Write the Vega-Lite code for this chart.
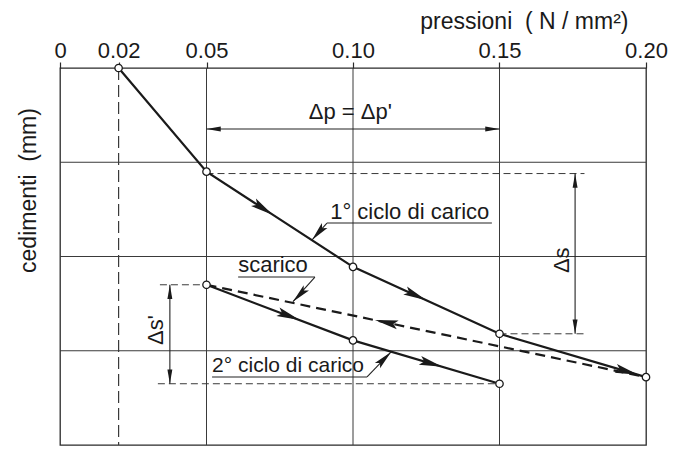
{
  "$schema": "https://vega.github.io/schema/vega-lite/v6.json",
  "width": 586,
  "height": 377,
  "autosize": {"type": "none"},
  "padding": {"left": 60, "top": 68, "right": 34, "bottom": 7},
  "background": "white",
  "config": {
    "view": {"stroke": "#2a2a2a", "strokeWidth": 1.3},
    "font": "Liberation Sans",
    "text": {"font": "Liberation Sans", "color": "#1a1a1a"}
  },
  "datasets": {
    "gridH": [{"s": 1, "p": 0, "p2": 0.2}, {"s": 2, "p": 0, "p2": 0.2}, {"s": 3, "p": 0, "p2": 0.2}],
    "gridV": [{"p": 0.05, "s": 0, "s2": 4}, {"p": 0.1, "s": 0, "s2": 4}, {"p": 0.15, "s": 0, "s2": 4}],
    "gridV02": [{"p": 0.02, "s": 0, "s2": 4}],
    "ext": [
      {"p": 0.05, "p2": 0.179, "s": 1.12},
      {"p": 0.15, "p2": 0.1795, "s": 2.82},
      {"p": 0.0341, "p2": 0.05, "s": 2.30},
      {"p": 0.0334, "p2": 0.15, "s": 3.35}
    ],
    "dims": [
      {"p": 0.05, "s": 0.647, "p2": 0.15, "s2": 0.647},
      {"p": 0.1758, "s": 1.12, "p2": 0.1758, "s2": 2.82},
      {"p": 0.0375, "s": 2.30, "p2": 0.0375, "s2": 3.35},
      {"p": 0.0911, "s": 1.645, "p2": 0.1474, "s2": 1.645},
      {"p": 0.0911, "s": 1.645, "p2": 0.0860, "s2": 1.825},
      {"p": 0.0608, "s": 2.218, "p2": 0.0870, "s2": 2.218},
      {"p": 0.0870, "s": 2.218, "p2": 0.0795, "s2": 2.48},
      {"p": 0.0519, "s": 3.278, "p2": 0.1048, "s2": 3.278},
      {"p": 0.1048, "s": 3.278, "p2": 0.1130, "s2": 3.013}
    ],
    "c1": [
      {"p": 0.02, "s": 0},
      {"p": 0.05, "s": 1.10},
      {"p": 0.10, "s": 2.11},
      {"p": 0.15, "s": 2.82},
      {"p": 0.20, "s": 3.28}
    ],
    "unload": [
      {"p": 0.20, "s": 3.28},
      {"p": 0.05, "s": 2.30}
    ],
    "c2": [
      {"p": 0.05, "s": 2.30},
      {"p": 0.10, "s": 2.89},
      {"p": 0.15, "s": 3.35}
    ],
    "pts": [
      {"p": 0.02, "s": 0},
      {"p": 0.05, "s": 1.10},
      {"p": 0.10, "s": 2.11},
      {"p": 0.15, "s": 2.82},
      {"p": 0.20, "s": 3.28},
      {"p": 0.05, "s": 2.30},
      {"p": 0.10, "s": 2.89},
      {"p": 0.15, "s": 3.35}
    ],
    "txtLeft": [
      {"p": 0.0922, "s": 1.602, "label": "1° ciclo di carico"},
      {"p": 0.0608, "s": 2.164, "label": "scarico"}
    ],
    "txtLeft2": [
      {"p": 0.0519, "s": 3.225, "label": "2° ciclo di carico"}
    ],
    "txtCenter": [
      {"p": 0.0991, "s": 0.541, "label": "Δp = Δp'"}
    ],
    "txtRot": [
      {"p": 0.1712, "s": 2.04, "label": "Δs"},
      {"p": 0.0326, "s": 2.78, "label": "Δs'"}
    ]
  },
  "encoding": {
    "x": {
      "field": "p", "type": "quantitative",
      "scale": {"domain": [0, 0.2], "nice": false, "zero": false},
      "axis": {
        "orient": "top",
        "values": [0, 0.02, 0.05, 0.1, 0.15, 0.2],
        "labelExpr": "datum.value == 0 ? '0' : format(datum.value, '.2f')",
        "grid": false,
        "domain": false,
        "ticks": true,
        "tickSize": 6,
        "tickColor": "#2a2a2a",
        "tickWidth": 1.2,
        "labelFont": "Liberation Sans",
        "labelFontSize": 22,
        "labelColor": "#1a1a1a",
        "labelPadding": 5,
        "labelBaseline": "alphabetic",
        "labelFlush": false,
        "labelOverlap": false,
        "title": "pressioni\u00a0\u00a0(\u00a0N\u00a0/\u00a0mm²)",
        "titleFont": "Liberation Sans",
        "titleFontSize": 23,
        "titleFontWeight": "normal",
        "titleColor": "#1a1a1a",
        "titleAlign": "right",
        "titleBaseline": "alphabetic",
        "titleX": 568,
        "titleY": -40
      }
    },
    "y": {
      "field": "s", "type": "quantitative",
      "scale": {"domain": [0, 4], "nice": false, "reverse": true},
      "axis": {
        "orient": "left",
        "labels": false,
        "ticks": false,
        "domain": false,
        "grid": false,
        "title": "cedimenti\u00a0\u00a0(mm)",
        "titleFont": "Liberation Sans",
        "titleFontSize": 23,
        "titleFontWeight": "normal",
        "titleColor": "#1a1a1a",
        "titleAngle": 270,
        "titleAlign": "center",
        "titleBaseline": "middle",
        "titleX": -32,
        "titleY": 122
      }
    }
  },
  "layer": [
    {
      "data": {"name": "gridH"},
      "mark": {"type": "rule", "color": "#3a3a3a", "strokeWidth": 1},
      "encoding": {"x2": {"field": "p2"}}
    },
    {
      "data": {"name": "gridV"},
      "mark": {"type": "rule", "color": "#3a3a3a", "strokeWidth": 1},
      "encoding": {"y2": {"field": "s2"}}
    },
    {
      "data": {"name": "gridV02"},
      "mark": {"type": "rule", "color": "#3a3a3a", "strokeWidth": 1.2, "strokeDash": [12, 5]},
      "encoding": {"y2": {"field": "s2"}}
    },
    {
      "data": {"name": "ext"},
      "mark": {"type": "rule", "color": "#3a3a3a", "strokeWidth": 1, "strokeDash": [7, 4]},
      "encoding": {"x2": {"field": "p2"}}
    },
    {
      "data": {"name": "dims"},
      "mark": {"type": "rule", "color": "#222", "strokeWidth": 1.1},
      "encoding": {"x2": {"field": "p2"}, "y2": {"field": "s2"}}
    },
    {
      "data": {"name": "c1"},
      "mark": {"type": "line", "color": "#1a1a1a", "strokeWidth": 2.2},
      "encoding": {}
    },
    {
      "data": {"name": "unload"},
      "mark": {"type": "line", "color": "#1a1a1a", "strokeWidth": 2.2, "strokeDash": [10, 6]},
      "encoding": {}
    },
    {
      "data": {"name": "c2"},
      "mark": {"type": "line", "color": "#1a1a1a", "strokeWidth": 2.2},
      "encoding": {}
    },
    {
      "data": {"values": [{"p": 0.0727, "s": 1.56}]},
      "mark": {"type": "point", "shape": "M0,0L0.5,2.6L0,2.1L-0.5,2.6Z", "filled": true, "color": "#1a1a1a", "opacity": 1, "size": 320, "angle": 123}
    },
    {
      "data": {"values": [{"p": 0.1250, "s": 2.465}]},
      "mark": {"type": "point", "shape": "M0,0L0.5,2.6L0,2.1L-0.5,2.6Z", "filled": true, "color": "#1a1a1a", "opacity": 1, "size": 320, "angle": 115}
    },
    {
      "data": {"values": [{"p": 0.1973, "s": 3.255}, {"p": 0.1305, "s": 3.17}]},
      "mark": {"type": "point", "shape": "M0,0L0.5,2.6L0,2.1L-0.5,2.6Z", "filled": true, "color": "#1a1a1a", "opacity": 1, "size": 320, "angle": 106}
    },
    {
      "data": {"values": [{"p": 0.1075, "s": 2.675}]},
      "mark": {"type": "point", "shape": "M0,0L0.5,2.6L0,2.1L-0.5,2.6Z", "filled": true, "color": "#1a1a1a", "opacity": 1, "size": 320, "angle": 282}
    },
    {
      "data": {"values": [{"p": 0.0818, "s": 2.675}]},
      "mark": {"type": "point", "shape": "M0,0L0.5,2.6L0,2.1L-0.5,2.6Z", "filled": true, "color": "#1a1a1a", "opacity": 1, "size": 320, "angle": 111}
    },
    {
      "data": {"values": [{"p": 0.0860, "s": 1.825}]},
      "mark": {"type": "point", "shape": "M0,0L0.5,2.6L0,2.1L-0.5,2.6Z", "filled": true, "color": "#1a1a1a", "opacity": 1, "size": 220, "angle": 221}
    },
    {
      "data": {"values": [{"p": 0.0795, "s": 2.48}]},
      "mark": {"type": "point", "shape": "M0,0L0.5,2.6L0,2.1L-0.5,2.6Z", "filled": true, "color": "#1a1a1a", "opacity": 1, "size": 220, "angle": 224}
    },
    {
      "data": {"values": [{"p": 0.1130, "s": 3.013}]},
      "mark": {"type": "point", "shape": "M0,0L0.5,2.6L0,2.1L-0.5,2.6Z", "filled": true, "color": "#1a1a1a", "opacity": 1, "size": 220, "angle": 45}
    },
    {
      "data": {"values": [{"p": 0.05, "s": 0.647}]},
      "mark": {"type": "point", "shape": "M0,0L0.45,2.6L-0.45,2.6Z", "filled": true, "color": "#1a1a1a", "opacity": 1, "size": 120, "angle": 270}
    },
    {
      "data": {"values": [{"p": 0.15, "s": 0.647}]},
      "mark": {"type": "point", "shape": "M0,0L0.45,2.6L-0.45,2.6Z", "filled": true, "color": "#1a1a1a", "opacity": 1, "size": 120, "angle": 90}
    },
    {
      "data": {"values": [{"p": 0.1758, "s": 1.12}, {"p": 0.0375, "s": 2.30}]},
      "mark": {"type": "point", "shape": "M0,0L0.45,2.6L-0.45,2.6Z", "filled": true, "color": "#1a1a1a", "opacity": 1, "size": 120, "angle": 0}
    },
    {
      "data": {"values": [{"p": 0.1758, "s": 2.82}, {"p": 0.0375, "s": 3.35}]},
      "mark": {"type": "point", "shape": "M0,0L0.45,2.6L-0.45,2.6Z", "filled": true, "color": "#1a1a1a", "opacity": 1, "size": 120, "angle": 180}
    },
    {
      "data": {"name": "pts"},
      "mark": {"type": "point", "shape": "circle", "filled": true, "fill": "white", "stroke": "#1a1a1a", "strokeWidth": 1.3, "opacity": 1, "size": 55}
    },
    {
      "data": {"name": "txtLeft"},
      "mark": {"type": "text", "align": "left", "baseline": "alphabetic", "fontSize": 22, "font": "Liberation Sans", "color": "#1a1a1a"},
      "encoding": {"text": {"field": "label"}}
    },
    {
      "data": {"name": "txtLeft2"},
      "mark": {"type": "text", "align": "left", "baseline": "alphabetic", "fontSize": 21, "font": "Liberation Sans", "color": "#1a1a1a"},
      "encoding": {"text": {"field": "label"}}
    },
    {
      "data": {"name": "txtCenter"},
      "mark": {"type": "text", "align": "center", "baseline": "alphabetic", "fontSize": 22, "font": "Liberation Sans", "color": "#1a1a1a"},
      "encoding": {"text": {"field": "label"}}
    },
    {
      "data": {"name": "txtRot"},
      "mark": {"type": "text", "align": "center", "baseline": "middle", "angle": 270, "fontSize": 22, "font": "Liberation Sans", "color": "#1a1a1a"},
      "encoding": {"text": {"field": "label"}}
    }
  ]
}
